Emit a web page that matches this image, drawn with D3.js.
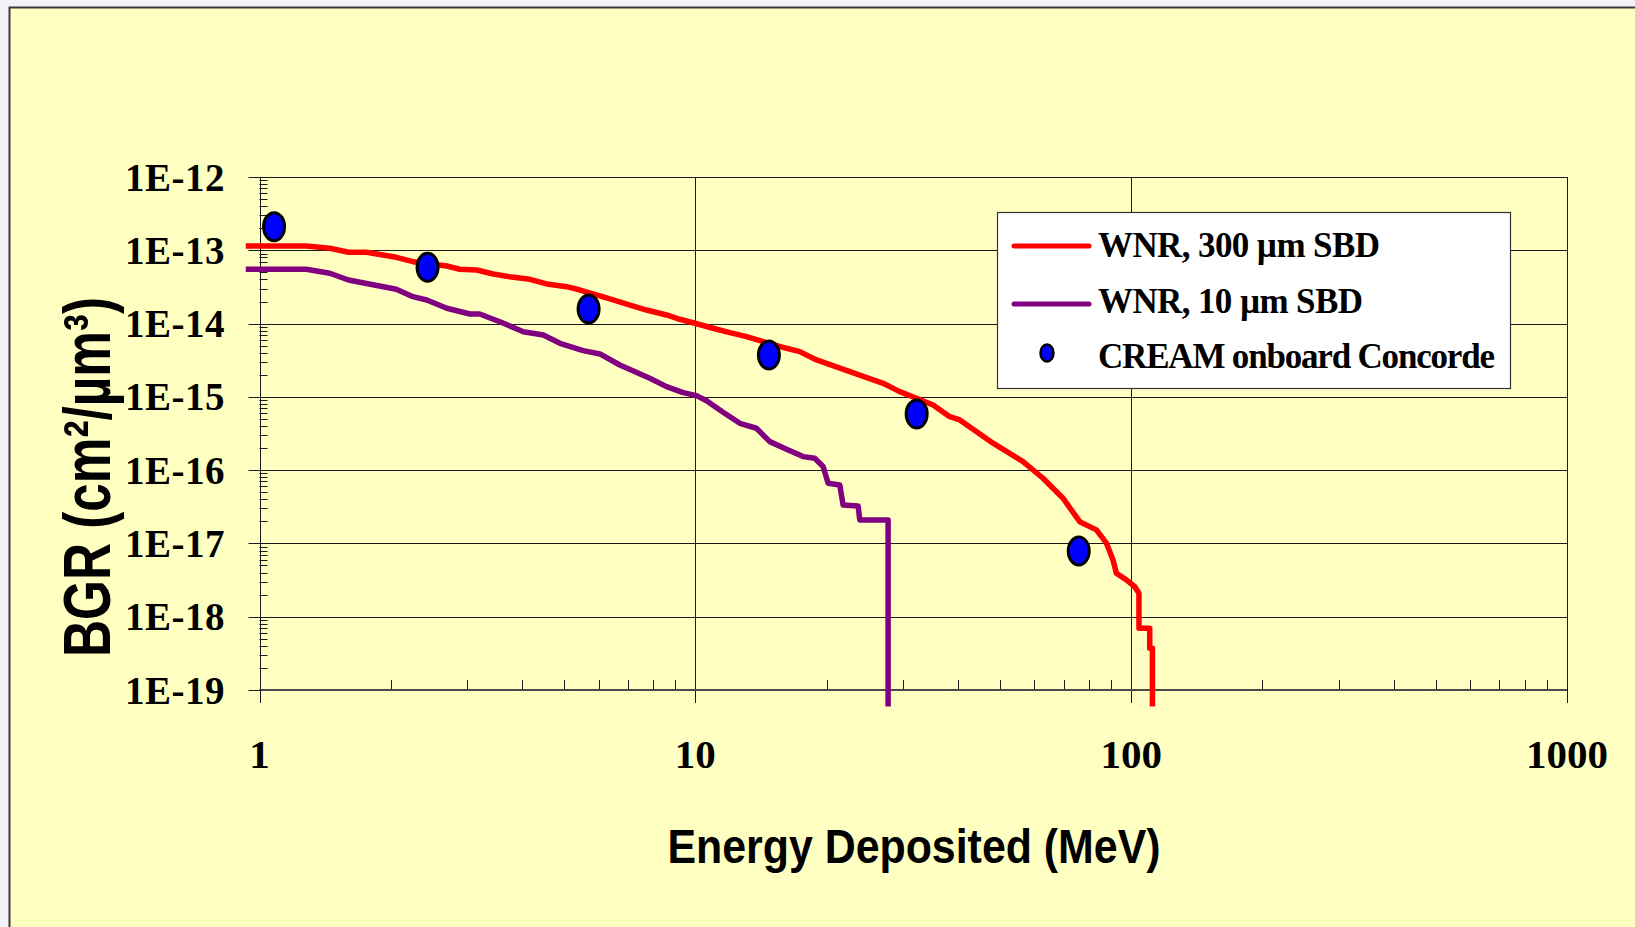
<!DOCTYPE html>
<html>
<head>
<meta charset="utf-8">
<script src="https://cdn.jsdelivr.net/npm/d3@7"></script>
<style>
  html, body { margin: 0; padding: 0; background: #f3f3f9; }
  svg { display: block; }
</style>
</head>
<body>
<svg id="chart" width="1635" height="927"></svg>
<script>
// ---------------- DATA ----------------
const xTickValues = [1, 10, 100, 1000];
const xTickLabels = ["1", "10", "100", "1000"];
const yTickValues = [1e-12, 1e-13, 1e-14, 1e-15, 1e-16, 1e-17, 1e-18, 1e-19];
const yTickLabels = ["1E-12", "1E-13", "1E-14", "1E-15", "1E-16", "1E-17", "1E-18", "1E-19"];

const seriesNames = ["WNR, 300 \u00b5m SBD", "WNR, 10 \u00b5m SBD", "CREAM onboard Concorde"];

// WNR, 300 um SBD : [Energy (MeV), BGR]
const wnr300 = [
  [0.93, 1.145e-13], [1.28, 1.145e-13], [1.45, 1.065e-13], [1.60, 9.39e-14], [1.76, 9.39e-14],
  [2.06, 8.02e-14], [2.25, 6.99e-14], [2.69, 6.11e-14], [2.88, 5.51e-14], [3.15, 5.39e-14],
  [3.44, 4.75e-14], [3.75, 4.36e-14], [4.17, 4.02e-14], [4.56, 3.47e-14], [5.07, 3.19e-14],
  [5.44, 2.87e-14], [6.04, 2.38e-14], [6.48, 2.10e-14], [7.08, 1.79e-14], [7.73, 1.53e-14],
  [8.59, 1.31e-14], [9.21, 1.145e-14], [9.98, 1.01e-14], [10.98, 8.63e-15], [12.00, 7.51e-15],
  [13.11, 6.63e-15], [14.57, 5.49e-15], [16.19, 4.60e-15], [17.36, 4.14e-15], [18.97, 3.19e-15],
  [22.62, 2.21e-15], [26.97, 1.53e-15], [29.44, 1.18e-15], [32.17, 9.57e-16], [35.12, 7.75e-16],
  [38.35, 5.37e-16], [40.44, 4.84e-16], [44.2, 3.35e-16], [48.20, 2.33e-16], [56.47, 1.31e-16],
  [62.77, 7.75e-17], [69.76, 4.14e-17], [76.20, 1.98e-17], [83.22, 1.53e-17], [87.73, 1.01e-17],
  [90.86, 5.95e-18], [92.50, 3.92e-18], [97.50, 3.18e-18], [101.9, 2.57e-18], [104.2, 2.09e-18],
  [104.2, 6.97e-19], [110.3, 6.97e-19], [110.3, 3.72e-19], [111.9, 3.72e-19], [111.9, 5.94e-20]
];

// WNR, 10 um SBD : [Energy (MeV), BGR]
const wnr10 = [
  [0.93, 5.51e-14], [1.28, 5.51e-14], [1.45, 4.86e-14], [1.60, 3.93e-14], [2.06, 2.94e-14],
  [2.25, 2.33e-14], [2.42, 2.10e-14], [2.69, 1.62e-14], [3.04, 1.35e-14], [3.20, 1.35e-14],
  [3.56, 1.06e-14], [4.03, 7.75e-15], [4.48, 6.99e-15], [4.89, 5.38e-15], [5.53, 4.27e-15],
  [6.04, 3.85e-15], [6.71, 2.72e-15], [7.86, 1.79e-15], [8.59, 1.38e-15], [9.38, 1.14e-15],
  [10.06, 1.04e-15], [10.61, 8.87e-16], [11.58, 6.16e-16], [12.65, 4.36e-16], [13.81, 3.73e-16],
  [14.82, 2.45e-16], [16.19, 1.93e-16], [17.67, 1.53e-16], [18.79, 1.45e-16], [19.64, 1.12e-16],
  [20.17, 6.63e-17], [21.45, 6.28e-17], [21.83, 3.35e-17], [23.63, 3.25e-17], [23.84, 2.09e-17],
  [27.69, 2.09e-17], [27.69, 5.94e-20]
];

// CREAM onboard Concorde
const creamEnergy = [1.08, 2.43, 5.69, 14.75, 32.2, 75.8];
const creamBGR = [2.1e-13, 5.86e-14, 1.58e-14, 3.73e-15, 5.85e-16, 7.9e-18];

// ---------------- DRAW ----------------
const svg = d3.select("#chart");
const W = 1635, H = 927;

// chart area background
svg.append("rect").attr("x", 0).attr("y", 0).attr("width", W).attr("height", H).attr("fill", "#f3f3f9");
svg.append("rect").attr("x", 9.5).attr("y", 7.5).attr("width", W + 20).attr("height", H + 20)
  .attr("fill", "#FFFFC2").attr("stroke", "#3a3a3a").attr("stroke-width", 2);

const x = d3.scaleLog().domain([1, 1000]).range([259.5, 1567]);
const y = d3.scaleLog().domain([1e-19, 1e-12]).range([690, 177]);

const gridColor = "#1a1a1a";
const g = svg.append("g");

// horizontal gridlines
g.selectAll("line.hgrid").data(yTickValues).enter().append("line")
  .attr("x1", x(1) - 11).attr("x2", x(1000))
  .attr("y1", d => Math.round(y(d)) + 0.5).attr("y2", d => Math.round(y(d)) + 0.5)
  .attr("stroke", gridColor).attr("stroke-width", 1);

// vertical gridlines (10, 100, 1000) + major ticks below
g.selectAll("line.vgrid").data(xTickValues).enter().append("line")
  .attr("x1", d => Math.round(x(d)) + 0.5).attr("x2", d => Math.round(x(d)) + 0.5)
  .attr("y1", d => d === 1 ? y(1e-12) : y(1e-12)).attr("y2", y(1e-19) + 13)
  .attr("stroke", gridColor).attr("stroke-width", 1);

// y minor ticks (inside)
const yMinor = [];
for (let e = -19; e < -12; e++) for (let m = 2; m <= 9; m++) yMinor.push(m * Math.pow(10, e));
g.selectAll("line.ymin").data(yMinor).enter().append("line")
  .attr("x1", x(1)).attr("x2", x(1) + 8)
  .attr("y1", d => Math.round(y(d)) + 0.5).attr("y2", d => Math.round(y(d)) + 0.5)
  .attr("stroke", gridColor).attr("stroke-width", 1);

// x minor ticks (inside)
const xMinor = [];
for (let e = 0; e < 3; e++) for (let m = 2; m <= 9; m++) xMinor.push(m * Math.pow(10, e));
g.selectAll("line.xmin").data(xMinor).enter().append("line")
  .attr("x1", d => Math.round(x(d)) + 0.5).attr("x2", d => Math.round(x(d)) + 0.5)
  .attr("y1", y(1e-19)).attr("y2", y(1e-19) - 10)
  .attr("stroke", gridColor).attr("stroke-width", 1);

// axes lines
g.append("line").attr("x1", x(1)).attr("x2", x(1000)).attr("y1", y(1e-19)).attr("y2", y(1e-19))
  .attr("stroke", "#4a4a4a").attr("stroke-width", 2);
g.append("line").attr("x1", Math.round(x(1)) + 0.5).attr("x2", Math.round(x(1)) + 0.5)
  .attr("y1", y(1e-12)).attr("y2", y(1e-19) + 13)
  .attr("stroke", gridColor).attr("stroke-width", 1);

// tick labels
const serif = "'Liberation Serif', 'Times New Roman', serif";
g.selectAll("text.ylab").data(yTickValues).enter().append("text")
  .attr("x", 225).attr("y", d => y(d) + 13.5)
  .attr("text-anchor", "end")
  .attr("font-family", serif).attr("font-weight", "bold").attr("font-size", 39)
  .attr("letter-spacing", 0.5)
  .text((d, i) => yTickLabels[i]);

g.selectAll("text.xlab").data(xTickValues).enter().append("text")
  .attr("x", d => x(d)).attr("y", 768)
  .attr("text-anchor", "middle")
  .attr("font-family", serif).attr("font-weight", "bold").attr("font-size", 41)
  .text((d, i) => xTickLabels[i]);

// axis titles
const sans = "'Liberation Sans', Arial, sans-serif";
svg.append("text")
  .attr("x", 914).attr("y", 863)
  .attr("text-anchor", "middle")
  .attr("font-family", sans).attr("font-weight", "bold").attr("font-size", 49)
  .attr("textLength", 493).attr("lengthAdjust", "spacingAndGlyphs")
  .text("Energy Deposited (MeV)");

svg.append("text")
  .attr("transform", "translate(110,477) rotate(-90)")
  .attr("text-anchor", "middle")
  .attr("font-family", sans).attr("font-weight", "bold").attr("font-size", 66)
  .attr("textLength", 360).attr("lengthAdjust", "spacingAndGlyphs")
  .text("BGR (cm\u00b2/\u00b5m\u00b3)");

// lines
const line = d3.line().x(d => x(d[0])).y(d => y(d[1]));
svg.append("path").datum(wnr300).attr("d", line)
  .attr("fill", "none").attr("stroke", "#FF0000").attr("stroke-width", 5.5)
  .attr("stroke-linejoin", "round");
svg.append("path").datum(wnr10).attr("d", line)
  .attr("fill", "none").attr("stroke", "#800080").attr("stroke-width", 5.5)
  .attr("stroke-linejoin", "round");

// CREAM dots
svg.selectAll("ellipse.cream").data(creamEnergy).enter().append("ellipse")
  .attr("cx", d => x(d)).attr("cy", (d, i) => y(creamBGR[i]))
  .attr("rx", 10.5).attr("ry", 14)
  .attr("fill", "#0000FF").attr("stroke", "#000").attr("stroke-width", 3);

// legend
const lg = svg.append("g");
lg.append("rect").attr("x", 997.5).attr("y", 212.5).attr("width", 513).attr("height", 176)
  .attr("fill", "#ffffff").attr("stroke", "#333").attr("stroke-width", 1.2);
const legendY = [246, 304, 353];
const legendBase = [257, 313, 368];
const legendLen = [282, 265, 397];
lg.append("line").attr("x1", 1014).attr("x2", 1089).attr("y1", legendY[0]).attr("y2", legendY[0])
  .attr("stroke", "#FF0000").attr("stroke-width", 5).attr("stroke-linecap", "round");
lg.append("line").attr("x1", 1014).attr("x2", 1089).attr("y1", legendY[1]).attr("y2", legendY[1])
  .attr("stroke", "#800080").attr("stroke-width", 5).attr("stroke-linecap", "round");
lg.append("ellipse").attr("cx", 1047).attr("cy", legendY[2]).attr("rx", 6.5).attr("ry", 8.5)
  .attr("fill", "#0000FF").attr("stroke", "#000").attr("stroke-width", 2.5);
lg.selectAll("text.leg").data(seriesNames).enter().append("text")
  .attr("x", 1098).attr("y", (d, i) => legendBase[i])
  .attr("font-family", serif).attr("font-weight", "bold").attr("font-size", 35)
  .attr("textLength", (d, i) => legendLen[i]).attr("lengthAdjust", "spacing")
  .text(d => d);
</script>
</body>
</html>
